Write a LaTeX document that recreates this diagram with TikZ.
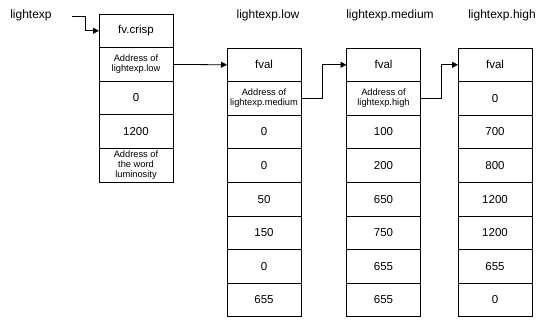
\documentclass[tikz,border=0pt]{standalone}
\usepackage{fontspec}
\setmainfont{Liberation Sans}
\usetikzlibrary{positioning,arrows.meta}
\begin{document}
\begin{tikzpicture}[x=1pt,y=1pt,
  cell/.style={draw,line width=0.9pt,fill=white,minimum width=74pt,minimum height=33.6pt,
    inner sep=0pt,outer sep=0pt,align=center,font=\fontsize{11.5}{13}\selectfont},
  small/.style={font=\fontsize{9.3}{10.2}\selectfont},
  title/.style={font=\fontsize{12}{14}\selectfont},
  arr/.style={-{Triangle[length=6pt,width=6pt]},line width=0.8pt}]
\useasboundingbox (0,0) rectangle (538,320);
\node[title] (lbl) at (31,305) {lightexp};%変数名
\node[title] (lowlbl) at (268,305) {lightexp.low};
\node[title] (medlbl) at (390,305) {lightexp.medium};
\node[title] (highlbl) at (502,305) {lightexp.high};
% fv.crisp
\node[cell] (cr1) at (136,289.2) {fv.crisp};
\node[cell,small,below=0pt of cr1] (cr2) {Address of\\lightexp.low};
\node[cell,below=0pt of cr2] (cr3) {0};
\node[cell,below=0pt of cr3] (cr4) {1200};
\node[cell,small,below=0pt of cr4] (cr5) {Address of\\the word\\luminosity};
% low
\node[cell] (lo1) at (264,255.2) {fval};
\node[cell,small,below=0pt of lo1] (lo2) {Address of\\lightexp.medium};
\foreach \v [count=\i from 3,remember=\i as \j (initially 2)] in {0,0,50,150,0,655}
  \node[cell,below=0pt of lo\j] (lo\i) {\v};
% medium
\node[cell] (me1) at (383.5,255.2) {fval};
\node[cell,small,below=0pt of me1] (me2) {Address of\\lightexp.high};
\foreach \v [count=\i from 3,remember=\i as \j (initially 2)] in {100,200,650,750,655,655}
  \node[cell,below=0pt of me\j] (me\i) {\v};
% high
\node[cell] (hi1) at (495,255.2) {fval};
\foreach \v [count=\i from 2,remember=\i as \j (initially 1)] in {0,700,800,1200,1200,655,0}
  \node[cell,below=0pt of hi\j] (hi\i) {\v};
% pointers
\coordinate (start) at (72,304);
\draw[arr] (start) -- (85,304) |- (cr1.west);
\draw[arr] (cr2.east) -- (lo1.west);
\draw[arr] (lo2.east) -- ++(21,0) |- (me1.west);
\draw[arr] (me2.east) -- ++(21,0) |- (hi1.west);
\end{tikzpicture}
\end{document}
